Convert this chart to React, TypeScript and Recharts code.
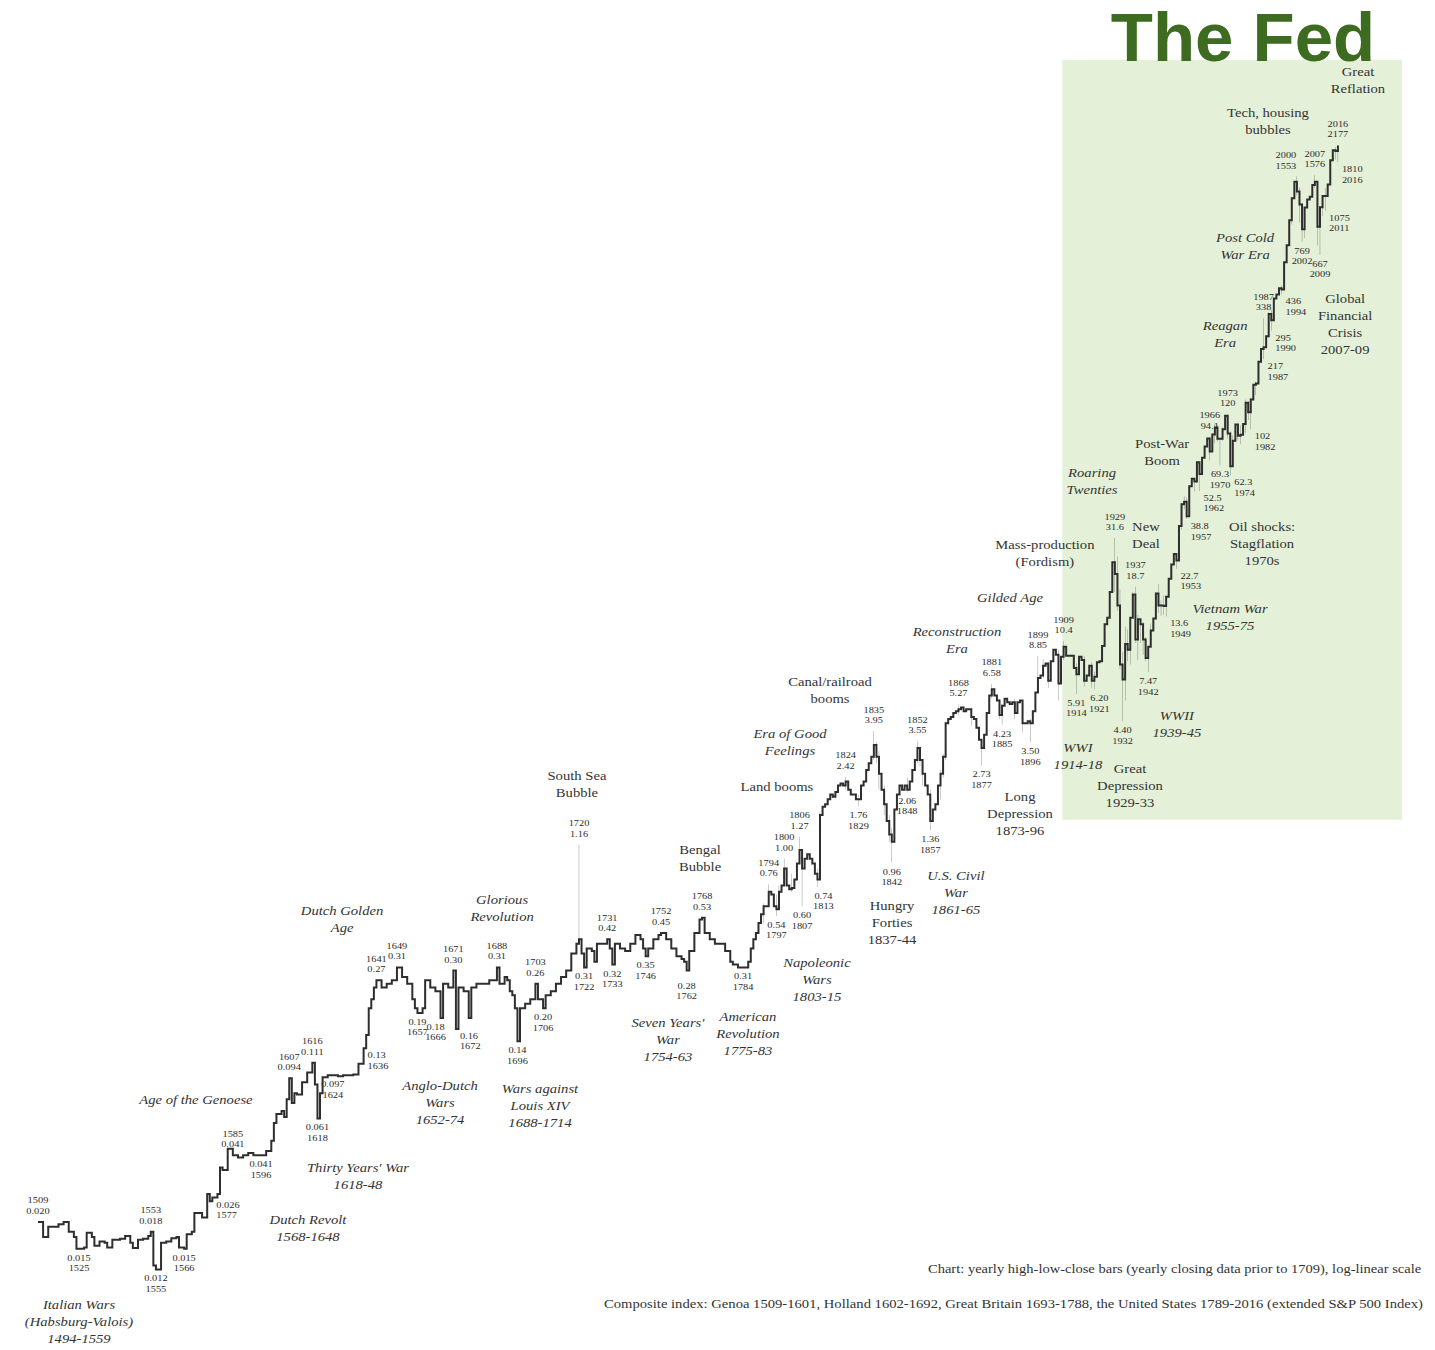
import React from "react";
import { ComposedChart, Line, Bar, Scatter, XAxis, YAxis, ReferenceArea } from "recharts";

// ---------- closing values (year, close) ----------
const genoaCloses: [number, number][] = [
  [1509, 0.02], [1511, 0.017], [1513, 0.019], [1517, 0.0195], [1519, 0.02], [1521, 0.018], [1523, 0.017],
  [1524, 0.015], [1527, 0.0152], [1528, 0.0178], [1530, 0.017], [1531, 0.0155], [1533, 0.0162], [1535, 0.016],
  [1536, 0.0152], [1538, 0.0165], [1541, 0.0167], [1543, 0.0172], [1545, 0.016], [1546, 0.0151], [1548, 0.0165],
  [1550, 0.0167], [1552, 0.0172], [1553, 0.018], [1554, 0.0125], [1555, 0.012], [1557, 0.016], [1559, 0.0162],
  [1561, 0.0168], [1563, 0.017], [1564, 0.0152], [1566, 0.015], [1567, 0.0175], [1569, 0.018], [1570, 0.022],
  [1572, 0.022], [1573, 0.021], [1575, 0.027], [1576, 0.025], [1577, 0.026], [1579, 0.027], [1580, 0.036],
  [1581, 0.035], [1583, 0.044], [1585, 0.041], [1587, 0.04], [1589, 0.041], [1591, 0.042], [1593, 0.041],
  [1596, 0.041], [1598, 0.043], [1600, 0.048],
];

const hollandCloses: [number, number][] = [
  [1601, 0.058], [1602, 0.064], [1604, 0.066], [1605, 0.062], [1606, 0.075], [1607, 0.094], [1608, 0.072],
  [1609, 0.08], [1610, 0.079], [1612, 0.09], [1614, 0.1], [1616, 0.111], [1617, 0.088], [1618, 0.061],
  [1619, 0.08], [1620, 0.095], [1622, 0.097], [1624, 0.097], [1626, 0.096], [1628, 0.097], [1630, 0.097],
  [1632, 0.098], [1634, 0.11], [1636, 0.13], [1637, 0.15], [1638, 0.2], [1639, 0.22], [1640, 0.25],
  [1641, 0.27], [1643, 0.25], [1645, 0.26], [1647, 0.27], [1649, 0.31], [1651, 0.28], [1653, 0.26],
  [1655, 0.22], [1656, 0.2], [1657, 0.19], [1659, 0.2], [1660, 0.27], [1662, 0.25], [1664, 0.24],
  [1666, 0.18], [1667, 0.26], [1669, 0.25], [1671, 0.3], [1672, 0.16], [1673, 0.25], [1675, 0.24],
  [1677, 0.18], [1678, 0.25], [1680, 0.26], [1683, 0.26], [1685, 0.27], [1687, 0.27], [1688, 0.31],
  [1689, 0.26], [1691, 0.28], [1692, 0.27],
];

const britainCloses: [number, number][] = [
  [1693, 0.24], [1694, 0.23], [1695, 0.2], [1696, 0.14], [1697, 0.2], [1699, 0.21], [1701, 0.22],
  [1703, 0.26], [1704, 0.22], [1706, 0.2], [1707, 0.23], [1709, 0.24], [1711, 0.26], [1713, 0.28],
  [1715, 0.3], [1717, 0.36], [1719, 0.4], [1720, 0.42], [1721, 0.36], [1722, 0.31], [1723, 0.38],
  [1725, 0.37], [1726, 0.33], [1727, 0.4], [1729, 0.4], [1731, 0.42], [1732, 0.38], [1733, 0.32],
  [1734, 0.4], [1736, 0.38], [1738, 0.37], [1740, 0.4], [1742, 0.44], [1744, 0.42], [1745, 0.38],
  [1746, 0.35], [1747, 0.38], [1749, 0.42], [1751, 0.44], [1752, 0.45], [1754, 0.42], [1756, 0.38],
  [1758, 0.35], [1760, 0.34], [1761, 0.33], [1762, 0.3], [1763, 0.37], [1765, 0.45], [1767, 0.52],
  [1768, 0.53], [1769, 0.45], [1771, 0.42], [1773, 0.4], [1775, 0.4], [1777, 0.37], [1779, 0.33],
  [1780, 0.32], [1782, 0.31], [1784, 0.31], [1786, 0.33], [1787, 0.38], [1788, 0.42],
];

const usCloses: [number, number][] = [
  [1789, 0.45], [1790, 0.5], [1791, 0.55], [1792, 0.6], [1793, 0.6], [1794, 0.7], [1795, 0.68], [1796, 0.6],
  [1797, 0.58], [1798, 0.7], [1799, 0.75], [1800, 0.9], [1801, 0.75], [1802, 0.72], [1803, 0.73], [1804, 0.8],
  [1805, 0.95], [1806, 1.1], [1807, 0.9], [1808, 1.0], [1809, 1.05], [1810, 1.0], [1811, 0.95], [1812, 0.85],
  [1813, 0.8], [1814, 1.6], [1815, 1.75], [1816, 1.8], [1817, 1.9], [1818, 2.0], [1819, 1.95], [1820, 2.05],
  [1821, 2.2], [1822, 2.25], [1823, 2.2], [1824, 2.3], [1825, 2.1], [1826, 2.0], [1827, 2.0], [1828, 1.9],
  [1829, 1.9], [1830, 2.2], [1831, 2.3], [1832, 2.6], [1833, 2.8], [1834, 3.0], [1835, 3.4], [1836, 3.0],
  [1837, 2.5], [1838, 2.1], [1839, 1.8], [1840, 1.5], [1841, 1.3], [1842, 1.2], [1843, 1.7], [1844, 2.0],
  [1845, 2.2], [1846, 2.1], [1847, 2.2], [1848, 2.1], [1849, 2.3], [1850, 2.6], [1851, 2.9], [1852, 3.3],
  [1853, 2.9], [1854, 2.5], [1855, 2.2], [1856, 2.0], [1857, 1.5], [1858, 1.7], [1859, 1.8], [1860, 2.2],
  [1861, 2.5], [1862, 3.0], [1863, 4.3], [1864, 4.5], [1865, 4.6], [1866, 4.8], [1867, 4.9], [1868, 5.0],
  [1869, 5.1], [1870, 4.9], [1871, 5.0], [1872, 5.0], [1873, 4.6], [1874, 4.5], [1875, 4.1], [1876, 3.6],
  [1877, 3.3], [1878, 3.8], [1879, 4.8], [1880, 5.8], [1881, 6.2], [1882, 5.8], [1883, 5.5], [1884, 4.7],
  [1885, 5.2], [1886, 5.6], [1887, 5.4], [1888, 5.3], [1889, 5.4], [1890, 4.8], [1891, 5.4], [1892, 5.5],
  [1893, 4.3], [1894, 4.3], [1895, 4.4], [1896, 4.3], [1897, 4.9], [1898, 6.0], [1899, 7.0], [1900, 7.2],
  [1901, 8.0], [1902, 8.2], [1903, 6.8], [1904, 8.4], [1905, 9.5], [1906, 9.0], [1907, 6.6], [1908, 8.8],
  [1909, 9.8], [1910, 8.9], [1911, 8.9], [1912, 8.9], [1913, 7.8], [1914, 7.3], [1915, 8.8], [1916, 8.5],
  [1917, 6.8], [1918, 7.2], [1919, 8.0], [1920, 6.8], [1921, 7.1], [1922, 8.3], [1923, 8.4], [1924, 9.9],
  [1925, 12.5], [1926, 13.4], [1927, 17.7], [1928, 24.4], [1929, 21.5], [1930, 15.3], [1931, 8.1], [1932, 6.9],
  [1933, 10.1], [1934, 9.5], [1935, 13.4], [1936, 17.2], [1937, 10.6], [1938, 13.2], [1939, 12.5], [1940, 10.6],
  [1941, 8.7], [1942, 9.8], [1943, 11.7], [1944, 13.3], [1945, 17.4], [1946, 15.3], [1947, 15.3], [1948, 15.2],
  [1949, 16.8], [1950, 20.4], [1951, 23.8], [1952, 26.6], [1953, 24.8], [1954, 36.0], [1955, 45.5], [1956, 46.7],
  [1957, 40.0], [1958, 55.2], [1959, 59.9], [1960, 58.1], [1961, 71.6], [1962, 63.1], [1963, 75.0], [1964, 84.8],
  [1965, 92.4], [1966, 80.3], [1967, 96.5], [1968, 103.9], [1969, 92.1], [1970, 92.2], [1971, 102.1], [1972, 118.1],
  [1973, 97.6], [1974, 68.6], [1975, 90.2], [1976, 107.5], [1977, 95.1], [1978, 96.1], [1979, 107.9], [1980, 135.8],
  [1981, 122.6], [1982, 140.6], [1983, 164.9], [1984, 167.2], [1985, 211.3], [1986, 242.2], [1987, 247.1], [1988, 277.7],
  [1989, 353.4], [1990, 330.2], [1991, 417.1], [1992, 435.7], [1993, 466.5], [1994, 459.3], [1995, 615.9], [1996, 740.7],
  [1997, 970.4], [1998, 1229], [1999, 1469], [2000, 1320], [2001, 1148], [2002, 880], [2003, 1112], [2004, 1212],
  [2005, 1248], [2006, 1418], [2007, 1468], [2008, 903], [2009, 1115], [2010, 1258], [2011, 1258], [2012, 1426],
  [2013, 1848], [2014, 2059], [2015, 2044], [2016, 2170],
];

// ---------- yearly high-low ranges (year, low, high) ----------
const yearlyRanges: [number, number, number][] = [
  [1720, 0.4, 1.16], [1792, 0.5, 0.62], [1794, 0.6, 0.76], [1797, 0.54, 0.68], [1798, 0.6, 0.75],
  [1800, 0.75, 1.0], [1803, 0.7, 0.85], [1806, 0.95, 1.27], [1807, 0.6, 1.05], [1813, 0.74, 0.9],
  [1814, 0.9, 1.65], [1824, 2.1, 2.42], [1829, 1.76, 2.0], [1835, 2.9, 3.95], [1836, 2.8, 3.5],
  [1837, 2.1, 3.2], [1839, 1.6, 2.2], [1841, 1.2, 1.6], [1842, 0.96, 1.4], [1848, 2.06, 2.4],
  [1852, 2.8, 3.55], [1853, 2.7, 3.3], [1854, 2.2, 2.9], [1857, 1.36, 2.1], [1861, 1.9, 2.6],
  [1862, 2.4, 3.1], [1863, 2.9, 4.4], [1868, 4.7, 5.27], [1873, 4.2, 5.1], [1877, 2.73, 3.6],
  [1881, 5.6, 6.58], [1884, 4.5, 5.6], [1885, 4.23, 5.3], [1890, 4.5, 5.6], [1893, 3.9, 5.3],
  [1896, 3.5, 4.5], [1899, 6.0, 8.85], [1901, 7.0, 8.6], [1903, 6.3, 8.3], [1907, 5.5, 9.5],
  [1909, 8.5, 10.4], [1914, 5.91, 8.2], [1917, 6.4, 8.9], [1920, 6.3, 8.3], [1921, 6.2, 7.5],
  [1928, 17.5, 24.4], [1929, 17.7, 31.6], [1930, 14.4, 25.9], [1931, 7.7, 18.2], [1932, 4.4, 9.3],
  [1933, 5.5, 12.2], [1934, 8.4, 11.8], [1935, 8.1, 13.5], [1936, 13.4, 17.7], [1937, 10.2, 18.7],
  [1938, 8.5, 13.8], [1939, 10.2, 13.2], [1940, 9.0, 12.8], [1941, 8.4, 10.9], [1942, 7.47, 9.8],
  [1943, 9.8, 12.6], [1944, 11.6, 13.3], [1945, 13.2, 17.7], [1946, 14.1, 19.3], [1947, 13.7, 16.2],
  [1948, 13.8, 17.1], [1949, 13.6, 16.8], [1950, 16.6, 20.4], [1953, 22.7, 26.7], [1955, 34.6, 46.4],
  [1956, 43.1, 49.7], [1957, 38.8, 49.1], [1958, 40.3, 55.2], [1960, 52.3, 60.4], [1961, 57.6, 72.6],
  [1962, 52.5, 71.1], [1963, 62.7, 75.0], [1966, 73.2, 94.1], [1967, 80.4, 97.6], [1968, 87.7, 108.4],
  [1969, 89.2, 106.2], [1970, 69.3, 93.5], [1971, 90.2, 104.8], [1973, 92.2, 120], [1974, 62.3, 99.8],
  [1975, 70.0, 95.6], [1976, 90.9, 107.8], [1977, 90.7, 107.0], [1978, 86.9, 106.9], [1980, 98.2, 140.5],
  [1981, 112.8, 138.1], [1982, 102, 143], [1984, 147.8, 170.4], [1987, 217, 338], [1989, 275.3, 359.8],
  [1990, 295, 369], [1994, 436, 482], [1998, 927, 1241], [2000, 1265, 1553], [2001, 944, 1383],
  [2002, 769, 1172], [2003, 800, 1112], [2007, 1374, 1576], [2008, 741, 1471], [2009, 667, 1130],
  [2010, 1011, 1262], [2011, 1075, 1371], [2015, 1867, 2134], [2016, 1810, 2177],
];

// ---------- labelled extremes: [year text, value text] ----------
const highMarks: [string, string][] = [
  ["1509", "0.020"], ["1553", "0.018"], ["1585", "0.041"], ["1607", "0.094"], ["1616", "0.111"],
  ["1641", "0.27"], ["1649", "0.31"], ["1671", "0.30"], ["1688", "0.31"], ["1703", "0.26"],
  ["1720", "1.16"], ["1731", "0.42"], ["1752", "0.45"], ["1768", "0.53"], ["1794", "0.76"],
  ["1800", "1.00"], ["1806", "1.27"], ["1824", "2.42"], ["1835", "3.95"], ["1852", "3.55"],
  ["1868", "5.27"], ["1881", "6.58"], ["1899", "8.85"], ["1909", "10.4"], ["1929", "31.6"],
  ["1937", "18.7"], ["1966", "94.1"], ["1973", "120"], ["1987", "338"], ["2000", "1553"],
  ["2007", "1576"], ["2016", "2177"],
];

const lowMarks: [string, string][] = [
  ["0.015", "1525"], ["0.012", "1555"], ["0.015", "1566"], ["0.041", "1596"],
  ["0.061", "1618"], ["0.097", "1624"], ["0.19", "1657"], ["0.18", "1666"],
  ["0.14", "1696"], ["0.20", "1706"], ["0.31", "1722"], ["0.32", "1733"],
  ["0.35", "1746"], ["0.28", "1762"], ["0.31", "1784"], ["0.54", "1797"], ["0.60", "1807"],
  ["0.74", "1813"], ["1.76", "1829"], ["0.96", "1842"], ["2.06", "1848"], ["1.36", "1857"],
  ["2.73", "1877"], ["4.23", "1885"], ["3.50", "1896"], ["5.91", "1914"], ["6.20", "1921"],
  ["4.40", "1932"], ["7.47", "1942"], ["69.3", "1970"], ["769", "2002"], ["667", "2009"],
];

const sideMarks: [string, string][] = [
  ["0.026", "1577"], ["0.13", "1636"], ["0.16", "1672"],
  ["13.6", "1949"], ["22.7", "1953"], ["38.8", "1957"], ["52.5", "1962"], ["62.3", "1974"],
  ["102", "1982"], ["217", "1987"], ["295", "1990"], ["436", "1994"], ["1075", "2011"], ["1810", "2016"],
];

// small horizontal nudges (px) for crowded labels, keyed by year text
const labelNudges: Record<string, number> = { "2000": -11, "1666": -5, "1813": 6, "1921": 5 };

// ---------- era annotations (anchored in year / index value) ----------
const eraLabels: { year: number; value: number; italic: boolean; lines: string[] }[] = [
  { year: 1525, value: 0.0082, italic: true, lines: ["Italian Wars", "(Habsburg-Valois)", "1494-1559"] },
  { year: 1570.6, value: 0.0745, italic: true, lines: ["Age of the Genoese"] },
  { year: 1614.3, value: 0.0204, italic: true, lines: ["Dutch Revolt", "1568-1648"] },
  { year: 1633.8, value: 0.0358, italic: true, lines: ["Thirty Years' War", "1618-48"] },
  { year: 1665.8, value: 0.0865, italic: true, lines: ["Anglo-Dutch", "Wars", "1652-74"] },
  { year: 1704.8, value: 0.0838, italic: true, lines: ["Wars against", "Louis XIV", "1688-1714"] },
  { year: 1627.6, value: 0.57, italic: true, lines: ["Dutch Golden", "Age"] },
  { year: 1690, value: 0.641, italic: true, lines: ["Glorious", "Revolution"] },
  { year: 1719.2, value: 2.44, italic: false, lines: ["South Sea", "Bubble"] },
  { year: 1754.7, value: 0.1706, italic: true, lines: ["Seven Years'", "War", "1754-63"] },
  { year: 1785.9, value: 0.182, italic: true, lines: ["American", "Revolution", "1775-83"] },
  { year: 1767.2, value: 1.1, italic: false, lines: ["Bengal", "Bubble"] },
  { year: 1812.8, value: 0.325, italic: true, lines: ["Napoleonic", "Wars", "1803-15"] },
  { year: 1797.2, value: 2.17, italic: false, lines: ["Land booms"] },
  { year: 1802.3, value: 3.83, italic: true, lines: ["Era of Good", "Feelings"] },
  { year: 1817.9, value: 6.71, italic: false, lines: ["Canal/railroad", "booms"] },
  { year: 1842.1, value: 0.601, italic: false, lines: ["Hungry", "Forties", "1837-44"] },
  { year: 1867, value: 0.83, italic: true, lines: ["U.S. Civil", "War", "1861-65"] },
  { year: 1867.4, value: 11.5, italic: true, lines: ["Reconstruction", "Era"] },
  { year: 1888.1, value: 16.6, italic: true, lines: ["Gilded Age"] },
  { year: 1901.7, value: 29.3, italic: false, lines: ["Mass-production", "(Fordism)"] },
  { year: 1892, value: 1.945, italic: false, lines: ["Long", "Depression", "1873-96"] },
  { year: 1914.6, value: 3.3, italic: true, lines: ["WWI", "1914-18"] },
  { year: 1934.9, value: 2.63, italic: false, lines: ["Great", "Depression", "1929-33"] },
  { year: 1920.1, value: 63.7, italic: true, lines: ["Roaring", "Twenties"] },
  { year: 1941.1, value: 35.6, italic: false, lines: ["New", "Deal"] },
  { year: 1953.2, value: 4.65, italic: true, lines: ["WWII", "1939-45"] },
  { year: 1973.9, value: 14.7, italic: true, lines: ["Vietnam War", "1955-75"] },
  { year: 1986.4, value: 35.6, italic: false, lines: ["Oil shocks:", "Stagflation", "1970s"] },
  { year: 1947.4, value: 87.1, italic: false, lines: ["Post-War", "Boom"] },
  { year: 1972, value: 310, italic: true, lines: ["Reagan", "Era"] },
  { year: 1979.8, value: 800, italic: true, lines: ["Post Cold", "War Era"] },
  { year: 2018.8, value: 415, italic: false, lines: ["Global", "Financial", "Crisis", "2007-09"] },
  { year: 1988.7, value: 3076, italic: false, lines: ["Tech, housing", "bubbles"] },
  { year: 2023.8, value: 4786, italic: false, lines: ["Great", "Reflation"] },
];

const fedEra = { fromYear: 1908.5, toYear: 2041, low: 1.52, high: 5445 };
const titleText = "The Fed";
const footnotes = [
  "Chart: yearly high-low-close bars (yearly closing data prior to 1709), log-linear scale",
  "Composite index: Genoa 1509-1601, Holland 1602-1692, Great Britain 1693-1788, the United States 1789-2016 (extended S&P 500 Index)",
];

// ---------- build tables ----------
const chartData = (() => {
  const m = new Map<number, any>();
  for (const [y, c] of [...genoaCloses, ...hollandCloses, ...britainCloses, ...usCloses]) m.set(y, { year: y, close: c });
  for (const [y, lo, hi] of yearlyRanges) {
    const r = m.get(y) ?? { year: y };
    r.range = [lo, hi];
    m.set(y, r);
  }
  return [...m.values()].sort((a, b) => a.year - b.year);
})();

const markPoints = [
  ...highMarks.map(([yt, vt]) => ({ year: Number(yt), value: Number(vt), kind: "high", key: yt, lines: [yt, vt] })),
  ...lowMarks.map(([vt, yt]) => ({ year: Number(yt), value: Number(vt), kind: "low", key: yt, lines: [vt, yt] })),
  ...sideMarks.map(([vt, yt]) => ({ year: Number(yt), value: Number(vt), kind: "side", key: yt, lines: [vt, yt] })),
];

const SX = 1.22;
const SERIF = "'Liberation Serif', 'Times New Roman', serif";

const MarkShape = (props: any) => {
  const { cx, cy, payload } = props;
  if (cx == null || cy == null || !payload) return <g />;
  const lh = 10.5;
  let anchor: any = "middle";
  let dx = labelNudges[payload.key] ?? 0;
  let y0 = 12;
  if (payload.kind === "high") y0 = -8 - lh;
  else if (payload.kind === "side") {
    anchor = "start";
    dx += 4;
    y0 = 10;
  }
  return (
    <g transform={`translate(${cx + dx},${cy}) scale(${SX},1)`}>
      {payload.lines.map((t: string, i: number) => (
        <text key={i} x={0} y={y0 + i * lh} textAnchor={anchor} fontSize={8.5} fontFamily={SERIF} fill="#2a2a2a">
          {t}
        </text>
      ))}
    </g>
  );
};

const EraShape = (props: any) => {
  const { cx, cy, payload } = props;
  if (cx == null || cy == null || !payload) return <g />;
  const lh = 17;
  return (
    <g transform={`translate(${cx},${cy}) scale(${SX},1)`}>
      {payload.lines.map((t: string, i: number) => (
        <text
          key={i}
          x={0}
          y={4 + i * lh}
          textAnchor="middle"
          fontSize={12}
          fontStyle={payload.italic ? "italic" : "normal"}
          fontFamily={SERIF}
          fill="#333"
        >
          {t}
        </text>
      ))}
    </g>
  );
};

export default function App() {
  return (
    <div style={{ position: "absolute", left: 0, top: 0, width: 1435, height: 1350, overflow: "hidden", background: "#fff" }}>
      <div style={{ position: "absolute", left: 0, top: 0 }}>
        <ComposedChart
          width={1435}
          height={1390}
          data={chartData}
          margin={{ top: 24.3, right: 22.7, bottom: 18.6, left: 14.9 }}
        >
          <XAxis dataKey="year" type="number" domain={[1500, 2045]} allowDataOverflow hide />
          <YAxis type="number" scale="log" domain={[0.004, 8000]} allowDataOverflow hide />
          <ReferenceArea
            x1={fedEra.fromYear}
            x2={fedEra.toYear}
            y1={fedEra.low}
            y2={fedEra.high}
            fill="#e4f0d7"
            fillOpacity={1}
            stroke="none"
            ifOverflow="visible"
          />
          <Bar dataKey="range" barSize={2} fill="#1e1e1e" isAnimationActive={false} />
          <Line
            dataKey="close"
            type="stepAfter"
            stroke="#2e2e2e"
            strokeWidth={2}
            dot={false}
            connectNulls
            isAnimationActive={false}
          />
          <Scatter data={markPoints} dataKey="value" shape={MarkShape} isAnimationActive={false} />
          <Scatter data={eraLabels} dataKey="value" shape={EraShape} isAnimationActive={false} />
        </ComposedChart>
      </div>
      <div
        style={{
          position: "absolute",
          left: 1043,
          top: 13.1,
          width: 400,
          height: 50,
          textAlign: "center",
          fontFamily: "'Liberation Sans', Arial, sans-serif",
          fontWeight: 700,
          fontSize: 69,
          lineHeight: "50px",
          color: "#3d6b1f",
          whiteSpace: "nowrap",
        }}
      >
        {titleText}
      </div>
      <svg width={1435} height={1350} style={{ position: "absolute", left: 0, top: 0, pointerEvents: "none" }}>
        <text transform={`translate(928,1273) scale(${SX},1)`} fontSize={11.9} fontFamily={SERIF} fill="#333">
          {footnotes[0]}
        </text>
        <text transform={`translate(604,1308) scale(${SX},1)`} fontSize={12} fontFamily={SERIF} fill="#333">
          {footnotes[1]}
        </text>
      </svg>
    </div>
  );
}
